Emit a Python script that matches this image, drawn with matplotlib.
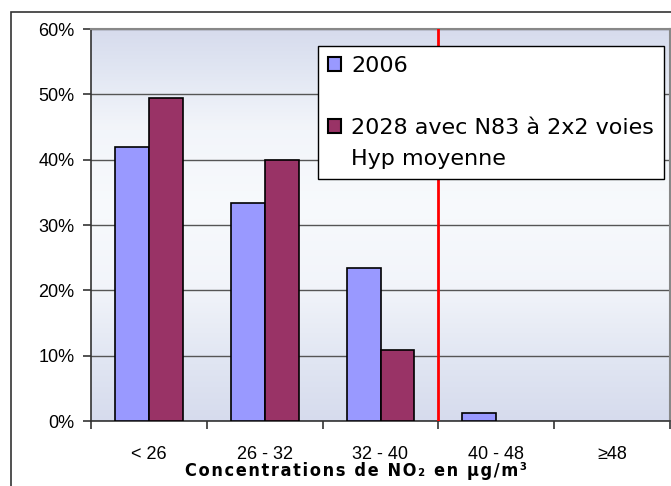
import numpy as np
import matplotlib
matplotlib.use("Agg")
import matplotlib.pyplot as plt
from matplotlib.patches import Patch, Rectangle

# données (part des points, en %)
categories = ["< 26", "26 - 32", "32 - 40", "40 - 48", "≥48"]
serie_2006 = [41.9, 33.3, 23.4, 1.3, 0.0]
serie_2028 = [49.4, 39.9, 10.9, 0.0, 0.0]
label_2006 = "2006"
label_2028 = "2028 avec N83 à 2x2 voies"
label_hyp = "Hyp moyenne"
seuil = 2.5  # limite 40 µg/m3, entre "32 - 40" et "40 - 48"
yticks = [0, 10, 20, 30, 40, 50, 60]
titre_x = "Concentrations de NO₂ en µg/m³"

plt.rcParams['font.family'] = ['Liberation Sans', 'DejaVu Sans']

W, H = 671, 486
fig = plt.figure(figsize=(W / 100, H / 100), dpi=100)
fig.patch.set_facecolor("white")

# cadre extérieur du graphique
fig.patches.append(Rectangle((11 / W, -0.1), 1.2, (H - 12) / H + 0.1,
                             transform=fig.transFigure, fill=False,
                             edgecolor="#333333", lw=1.2))

ax = fig.add_axes([91 / W, (H - 421) / H, (670 - 91) / W, (421 - 29) / H])

# fond dégradé (ciel), du bas vers le haut
pos = np.linspace(0, 1, 200)
stops = [0, 0.15, 0.35, 0.55, 0.75, 0.9, 1]
r = np.interp(pos, stops, [0.84, 0.88, 0.95, 0.97, 0.95, 0.88, 0.84])
g = np.interp(pos, stops, [0.86, 0.90, 0.96, 0.98, 0.96, 0.90, 0.86])
b = np.interp(pos, stops, [0.93, 0.95, 0.98, 0.99, 0.98, 0.95, 0.93])
grad = np.stack([r, g, b], axis=-1)[:, None, :].repeat(2, axis=1)
ax.imshow(grad, extent=[0, 1, 0, 1], transform=ax.transAxes, aspect="auto",
          origin="lower", zorder=0)

x = np.arange(len(categories))
w = 0.293
b1 = ax.bar(x - w / 2, serie_2006, w, color="#9999FF", edgecolor="black", lw=1.2, zorder=3)
b2 = ax.bar(x + w / 2, serie_2028, w, color="#993366", edgecolor="black", lw=1.2, zorder=3)
for p in list(b1) + list(b2):
    if p.get_height() == 0:
        p.set_visible(False)

ax.axvline(seuil, color="red", lw=2, zorder=4)

ax.set_xlim(-0.5, len(categories) - 0.5)
ax.set_ylim(0, 60)
ax.set_yticks(yticks)
ax.set_yticklabels([f"{v}%" for v in yticks], fontsize=13)
ax.yaxis.grid(True, color="#555555", lw=1)
for gl in ax.get_ygridlines():
    gl.set_zorder(1)

ax.set_xticks(x)
ax.set_xticklabels(categories, fontsize=13)
ax.tick_params(axis="x", which="major", length=0, pad=18)
ax.set_xticks(np.arange(-0.5, len(categories)), minor=True)
ax.tick_params(axis="x", which="minor", length=6, width=1.2, color="#333333")
ax.tick_params(axis="y", length=6, width=1.2, color="#333333", pad=6)

for side in ["top", "right"]:
    ax.spines[side].set_color("#888888")
    ax.spines[side].set_linewidth(1.5)
for side in ["left", "bottom"]:
    ax.spines[side].set_color("#333333")
    ax.spines[side].set_linewidth(1.2)

# titre d'axe avec un léger espacement des lettres
fig.text(356 / W, (H - 471) / H, "\u200a".join(titre_x),
         ha="center", va="center", fontsize=13, fontweight="bold",
         family=["DejaVu Sans"], fontstretch="condensed")

vide = Patch(facecolor="none", edgecolor="none")
handles = [Patch(facecolor="#9999FF", edgecolor="black", lw=1.5), vide,
           Patch(facecolor="#993366", edgecolor="black", lw=1.5), vide]
labels = [label_2006, "", label_2028, label_hyp]
leg = ax.legend(handles, labels, loc="upper left",
                bbox_to_anchor=((318 - 91) / 579, (421 - 46) / 392),
                borderaxespad=0, fancybox=False, framealpha=1,
                edgecolor="black", handlelength=0.6, handleheight=0.6,
                handletextpad=0.45, labelspacing=0.5, borderpad=0.45,
                prop={"family": "DejaVu Sans", "size": 16})
leg.get_frame().set_linewidth(1.0)
leg.set_zorder(5)

fig.savefig("out.png", dpi=100)
